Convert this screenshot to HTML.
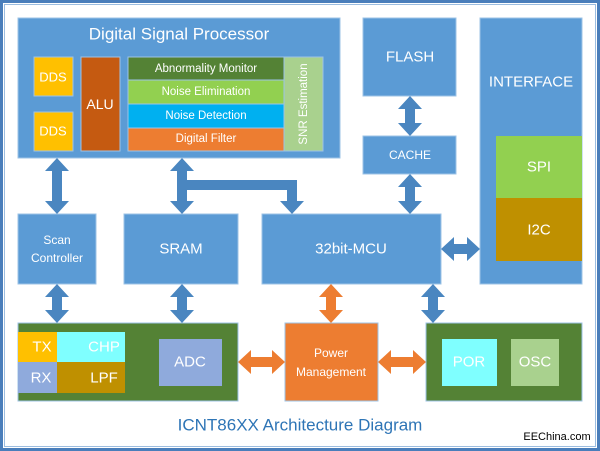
<!DOCTYPE html>
<html><head><style>
html,body{margin:0;padding:0;background:#fff}
svg{display:block}
text{font-family:"Liberation Sans",sans-serif;fill:#fff;text-anchor:middle;dominant-baseline:central}
</style></head><body>
<svg width="600" height="451" viewBox="0 0 600 451">
<rect x="1.5" y="1.5" width="597" height="448" fill="#fff" stroke="#4a7ebb" stroke-width="3"/>
<rect x="4.5" y="4.5" width="591" height="442" fill="none" stroke="#9cbde0" stroke-width="1"/>
<g stroke="#9dc3e6" stroke-width="1">
<rect x="18" y="18" width="322" height="140" fill="#5b9bd5"/>
<rect x="34" y="57" width="39" height="39" fill="#ffc000"/>
<rect x="34" y="112" width="39" height="39" fill="#ffc000"/>
<rect x="81" y="57" width="39" height="94" fill="#c55a11"/>
<rect x="128" y="57" width="156" height="23" fill="#548235"/>
<rect x="128" y="80" width="156" height="24" fill="#92d050"/>
<rect x="128" y="104" width="156" height="24" fill="#00b0f0"/>
<rect x="128" y="128" width="156" height="23" fill="#ed7d31"/>
<rect x="284" y="57" width="39" height="94" fill="#a9d18e"/>
<rect x="363" y="18" width="93" height="78" fill="#5b9bd5"/>
<rect x="363" y="136" width="93" height="38" fill="#5b9bd5"/>
<rect x="480" y="18" width="102" height="266" fill="#5b9bd5"/>
<rect x="18" y="214" width="78" height="70" fill="#5b9bd5"/>
<rect x="124" y="214" width="114" height="70" fill="#5b9bd5"/>
<rect x="262" y="214" width="179" height="70" fill="#5b9bd5"/>
<rect x="18" y="323" width="220" height="78" fill="#548235"/>
<rect x="285" y="323" width="93" height="78" fill="#ed7d31"/>
<rect x="426" y="323" width="156" height="78" fill="#548235"/>
</g>
<rect x="496" y="136" width="86" height="62" fill="#92d050"/>
<rect x="496" y="198" width="86" height="63" fill="#bf9000"/>
<rect x="18" y="332" width="39" height="30" fill="#ffc000"/>
<rect x="57" y="332" width="68" height="30" fill="#7fffff"/>
<rect x="18" y="362" width="39" height="31" fill="#8faadc"/>
<rect x="57" y="362" width="68" height="31" fill="#bf9000"/>
<rect x="159" y="339" width="63" height="47" fill="#8faadc"/>
<rect x="442" y="339" width="55" height="47" fill="#7fffff"/>
<rect x="511" y="339" width="48" height="47" fill="#a9d18e"/>
<g fill="#4a86c0">
<!-- vertical double arrows: x center, y1, y2 -->
<polygon points="57,158 69,171 62,171 62,201 69,201 57,214 45,201 52,201 52,171 45,171"/>
<polygon points="182,158 194,171 187,171 187,201 194,201 182,214 170,201 177,201 177,171 170,171"/>
<polygon points="187,180 297,180 297,201 304,201 292,214 280,201 287,201 287,190 187,190"/>
<polygon points="410,96 422,109 415,109 415,123 422,123 410,136 398,123 405,123 405,109 398,109"/>
<polygon points="410,174 422,187 415,187 415,201 422,201 410,214 398,201 405,201 405,187 398,187"/>
<polygon points="57,284 69,297 62,297 62,310 69,310 57,323 45,310 52,310 52,297 45,297"/>
<polygon points="182,284 194,297 187,297 187,310 194,310 182,323 170,310 177,310 177,297 170,297"/>
<polygon points="433,284 445,297 438,297 438,310 445,310 433,323 421,310 428,310 428,297 421,297"/>
<polygon points="441,249 454,237 454,244 467,244 467,237 480,249 467,261 467,254 454,254 454,261"/>
</g>
<g fill="#ed7d31">
<polygon points="331,284 343,297 336,297 336,310 343,310 331,323 319,310 326,310 326,297 319,297"/>
<polygon points="238,362 251,350 251,357 272,357 272,350 285,362 272,374 272,367 251,367 251,374"/>
<polygon points="378,362 391,350 391,357 413,357 413,350 426,362 413,374 413,367 391,367 391,374"/>
</g>
<text x="179" y="34" font-size="17">Digital Signal Processor</text>
<text x="53" y="77" font-size="13">DDS</text>
<text x="53" y="131" font-size="13">DDS</text>
<text x="100" y="104" font-size="14">ALU</text>
<text x="206" y="69" font-size="11.5">Abnormality Monitor</text>
<text x="206" y="92" font-size="11.5">Noise Elimination</text>
<text x="206" y="116" font-size="11.5">Noise Detection</text>
<text x="206" y="139" font-size="11.5">Digital Filter</text>
<text x="0" y="0" font-size="11.5" transform="translate(304,104) rotate(-90)">SNR Estimation</text>
<text x="410" y="57" font-size="15">FLASH</text>
<text x="410" y="155" font-size="12">CACHE</text>
<text x="531" y="82" font-size="15">INTERFACE</text>
<text x="539" y="167" font-size="15">SPI</text>
<text x="539" y="230" font-size="15">I2C</text>
<text x="57" y="240" font-size="12">Scan</text>
<text x="57" y="258" font-size="12">Controller</text>
<text x="181" y="249" font-size="15">SRAM</text>
<text x="351" y="249" font-size="15">32bit-MCU</text>
<text x="42" y="347" font-size="15">TX</text>
<text x="104" y="347" font-size="15">CHP</text>
<text x="41" y="378" font-size="15">RX</text>
<text x="104" y="378" font-size="15">LPF</text>
<text x="190" y="362" font-size="15">ADC</text>
<text x="331" y="353" font-size="12">Power</text>
<text x="331" y="372" font-size="12">Management</text>
<text x="469" y="362" font-size="15">POR</text>
<text x="535" y="362" font-size="15">OSC</text>
<text x="300" y="425" font-size="17" style="fill:#2e75b6">ICNT86XX Architecture Diagram</text>
<text x="557" y="437" font-size="11" style="fill:#000">EEChina.com</text>
</svg>
</body></html>
